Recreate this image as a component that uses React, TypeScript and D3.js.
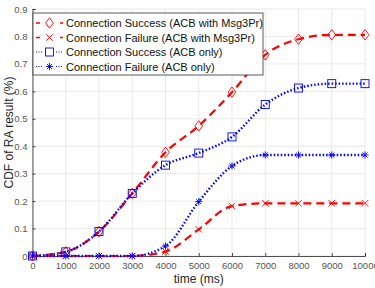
import React, { useEffect, useRef } from 'react';
import * as d3 from 'd3';

// sample times (ms) and CDF values per scheme
const times = [0, 1000, 2000, 3000, 4000, 5000, 6000, 7000, 8000, 9000, 10000];
const successMsg3 = [0, 0.015, 0.089, 0.228, 0.378, 0.474, 0.597, 0.733, 0.79, 0.806, 0.806];
const failureMsg3 = [0, 0, 0, 0, 0.016, 0.097, 0.182, 0.192, 0.192, 0.192, 0.192];
const successOnly = [0, 0.015, 0.089, 0.228, 0.331, 0.375, 0.434, 0.552, 0.612, 0.628, 0.628];
const failureOnly = [0, 0, 0, 0, 0.036, 0.198, 0.328, 0.368, 0.368, 0.368, 0.368];

const xTicks = [0, 1000, 2000, 3000, 4000, 5000, 6000, 7000, 8000, 9000, 10000];
const yTicks = [0, 0.1, 0.2, 0.3, 0.4, 0.5, 0.6, 0.7, 0.8, 0.9];

const series = [
  { name: 'Connection Success (ACB with Msg3Pr)', values: successMsg3, color: '#ff0000', dash: '8,5', width: 2.2, marker: 'diamond' },
  { name: 'Connection Failure (ACB with Msg3Pr)', values: failureMsg3, color: '#ff0000', dash: '8,5', width: 2.2, marker: 'cross' },
  { name: 'Connection Success (ACB only)', values: successOnly, color: '#0000ff', dash: '1.5,2', width: 2.4, marker: 'square' },
  { name: 'Connection Failure (ACB only)', values: failureOnly, color: '#0000ff', dash: '1.5,2', width: 2.4, marker: 'star' },
];

const App = () => {
  const svgRef = useRef<SVGSVGElement>(null);

  useEffect(() => {
    const svg = d3.select(svgRef.current);
    svg.selectAll('*').remove();

    const margin = { top: 9, right: 10, bottom: 32, left: 32.5 };
    const W = 375, H = 288;
    const width = W - margin.left - margin.right;
    const height = H - margin.top - margin.bottom;
    const font = '"Liberation Sans", Arial, sans-serif';

    const x = d3.scaleLinear().domain([0, 10000]).range([0, width]);
    const y = d3.scaleLinear().domain([0, 0.9]).range([height, 0]);

    const g = svg.append('g').attr('transform', `translate(${margin.left},${margin.top})`);

    // grid
    g.append('g').selectAll('line').data(xTicks).join('line')
      .attr('x1', d => x(d)).attr('x2', d => x(d)).attr('y1', 0).attr('y2', height)
      .attr('stroke', '#e3e3e3').attr('stroke-width', 0.8);
    g.append('g').selectAll('line').data(yTicks).join('line')
      .attr('x1', 0).attr('x2', width).attr('y1', d => y(d)).attr('y2', d => y(d))
      .attr('stroke', '#e3e3e3').attr('stroke-width', 0.8);

    // axes
    const xAxis = g.append('g').attr('transform', `translate(0,${height})`)
      .call(d3.axisBottom(x).tickValues(xTicks).tickSize(-3).tickPadding(6).tickFormat(d3.format('d')));
    const yAxis = g.append('g')
      .call(d3.axisLeft(y).tickValues(yTicks).tickSize(-3).tickPadding(5).tickFormat(d => (d === 0 ? '0' : d3.format('.1f')(d as number))));
    [xAxis, yAxis].forEach(a => {
      a.select('.domain').attr('stroke', '#262626').attr('stroke-width', 0.8);
      a.selectAll('.tick line').attr('stroke', '#262626').attr('stroke-width', 0.8);
      a.selectAll('text').attr('fill', '#555555').style('font-family', font).style('font-size', '9.5px');
    });

    // series
    const line = d3.line<number>()
      .x((_, i) => x(times[i]))
      .y(d => y(d))
      .curve(d3.curveMonotoneX);

    const drawMarker = (sel: any, type: string, color: string, cx: number, cy: number, s = 1) => {
      if (type === 'diamond') {
        const r = 5.2 * s;
        sel.append('path').attr('d', `M${cx},${cy - r}L${cx + r * 0.75},${cy}L${cx},${cy + r}L${cx - r * 0.75},${cy}Z`)
          .attr('fill', 'none').attr('stroke', color).attr('stroke-width', 0.9);
      } else if (type === 'square') {
        const r = 4 * s;
        sel.append('rect').attr('x', cx - r).attr('y', cy - r).attr('width', 2 * r).attr('height', 2 * r)
          .attr('fill', 'none').attr('stroke', color).attr('stroke-width', 0.9);
      } else if (type === 'cross') {
        const r = 3.2 * s;
        sel.append('path').attr('d', `M${cx - r},${cy - r}L${cx + r},${cy + r}M${cx - r},${cy + r}L${cx + r},${cy - r}`)
          .attr('stroke', color).attr('stroke-width', 0.9);
      } else {
        const r = 3.6 * s;
        const d = r * 0.7;
        sel.append('path').attr('d', `M${cx - r},${cy}L${cx + r},${cy}M${cx},${cy - r}L${cx},${cy + r}M${cx - d},${cy - d}L${cx + d},${cy + d}M${cx - d},${cy + d}L${cx + d},${cy - d}`)
          .attr('stroke', color).attr('stroke-width', 0.9);
      }
    };

    series.forEach(s => {
      const sg = g.append('g');
      sg.append('path').datum(s.values)
        .attr('fill', 'none').attr('stroke', s.color).attr('stroke-width', s.width)
        .attr('stroke-dasharray', s.dash).attr('d', line);
      s.values.forEach((v, i) => drawMarker(sg, s.marker, s.color, x(times[i]), y(v)));
    });

    // legend
    const lg = svg.append('g').attr('transform', `translate(${margin.left + 0.5},13)`);
    lg.append('rect').attr('width', 230).attr('height', 62)
      .attr('fill', '#ffffff').attr('stroke', '#333333').attr('stroke-width', 0.8);
    series.forEach((s, i) => {
      const cy = 10 + i * 14.5;
      const red = s.marker === 'diamond' || s.marker === 'cross';
      lg.append('line').attr('x1', 3).attr('x2', 30).attr('y1', cy).attr('y2', cy)
        .attr('stroke', s.color).attr('stroke-width', red ? 1.3 : 1)
        .attr('stroke-dasharray', red ? '4,4' : '1,1.5');
      lg.append('rect').attr('x', 10).attr('y', cy - 6).attr('width', 13).attr('height', 12).attr('fill', '#fff');
      drawMarker(lg, s.marker, s.color, 16.5, cy, 1);
      lg.append('text').attr('x', 33).attr('y', cy + 4)
        .style('font-family', font).style('font-size', '11px').attr('fill', '#111')
        .text(s.name);
    });

    // axis labels
    svg.append('text')
      .attr('x', margin.left + width / 2).attr('y', H - 5)
      .attr('text-anchor', 'middle').attr('fill', '#262626')
      .style('font-family', font).style('font-size', '12px')
      .text('time (ms)');
    svg.append('text')
      .attr('transform', `translate(13,${margin.top + height / 2}) rotate(-90)`)
      .attr('text-anchor', 'middle').attr('fill', '#262626')
      .style('font-family', font).style('font-size', '12px')
      .text('CDF of RA result (%)');
  }, []);

  return (
    <svg ref={svgRef} width={375} height={288}
      style={{ position: 'absolute', left: 0, top: 0, background: '#fff' }} />
  );
};

export default App;
